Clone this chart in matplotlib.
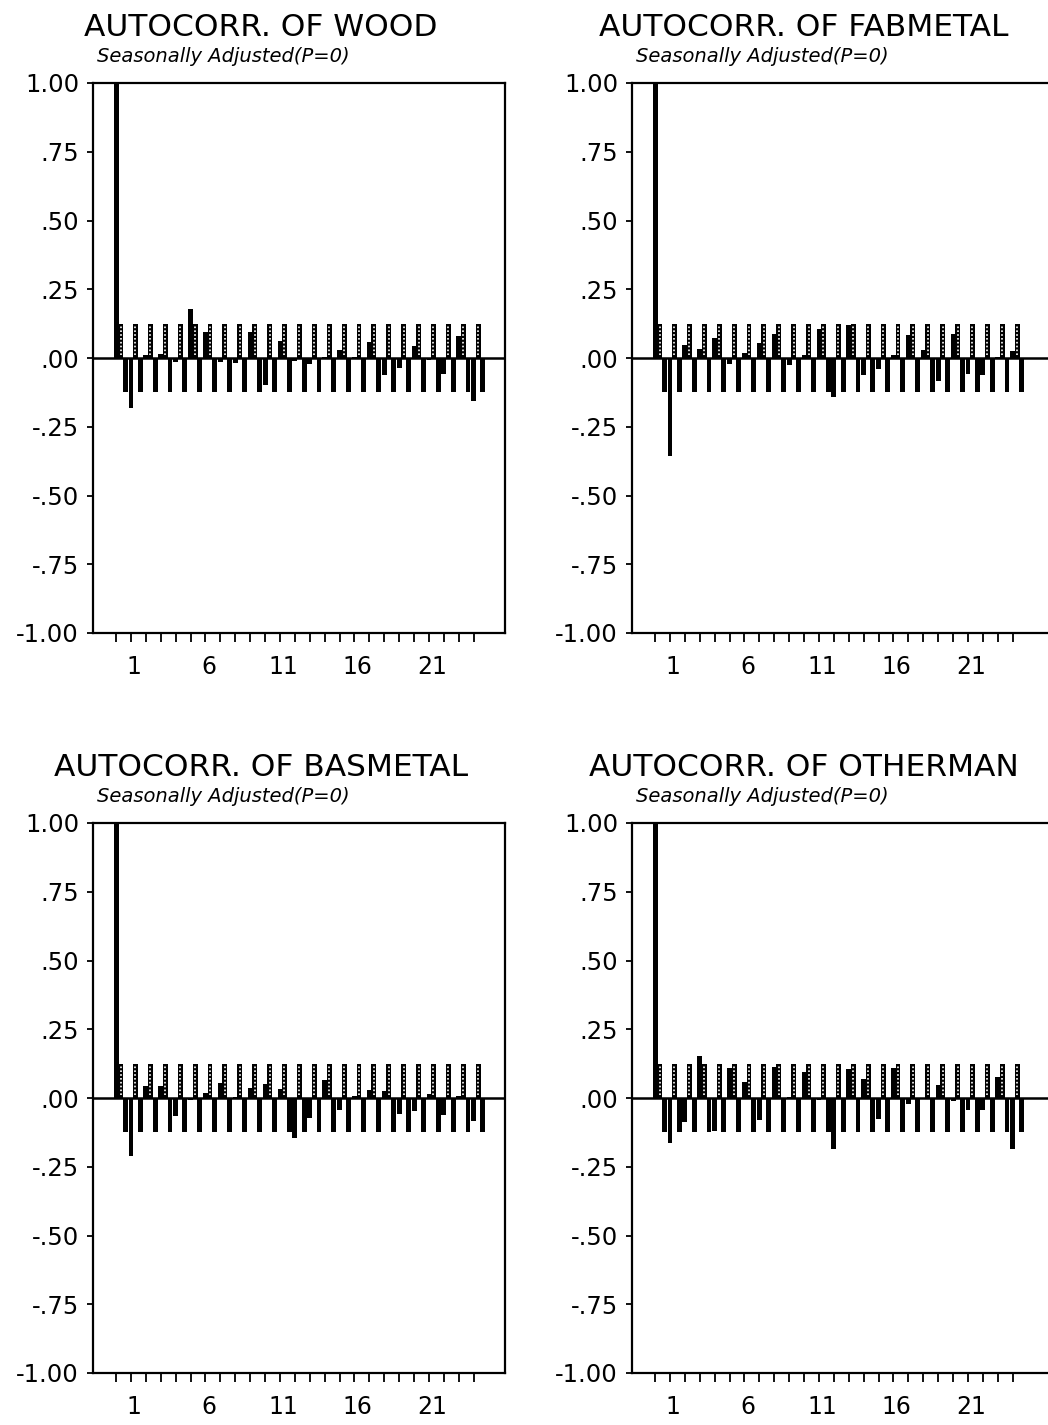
import numpy as np
import matplotlib.pyplot as plt

# lags 0..24, autocorrelations
lags = np.arange(25)

acf_wood = [1.00, -0.18, 0.012, 0.016, -0.016, 0.18, 0.094, -0.015, -0.018, 0.095,
            -0.097, 0.063, -0.012, -0.022, 0.003, 0.03, 0.005, 0.058, -0.06, -0.036,
            0.042, -0.006, -0.058, 0.079, -0.155]
acf_fabmetal = [1.00, -0.355, 0.046, 0.034, 0.073, -0.02, 0.018, 0.055, 0.089, -0.024,
                0.012, 0.104, -0.142, 0.119, -0.063, -0.041, 0.01, 0.083, 0.028, -0.085,
                0.089, -0.057, -0.061, 0.004, 0.024]
acf_basmetal = [1.00, -0.21, 0.045, 0.042, -0.064, -0.008, 0.018, 0.054, 0.002, 0.036,
                0.05, 0.032, -0.144, -0.072, 0.064, -0.042, 0.006, 0.028, 0.026, -0.057,
                -0.048, 0.014, -0.06, 0.008, -0.084]
acf_otherman = [1.00, -0.165, -0.088, 0.153, -0.12, 0.108, 0.06, -0.081, 0.114, 0.002,
                0.093, -0.008, -0.184, 0.105, 0.069, -0.076, 0.108, -0.02, 0.0, 0.048,
                -0.012, -0.042, -0.045, 0.078, -0.184]

# two standard error band
band_upper = 0.125
band_lower = -0.125

names = ['WOOD', 'FABMETAL', 'BASMETAL', 'OTHERMAN']
series = [acf_wood, acf_fabmetal, acf_basmetal, acf_otherman]
subtitle = 'Seasonally Adjusted(P=0)'

ytick_vals = [1.0, 0.75, 0.5, 0.25, 0.0, -0.25, -0.5, -0.75, -1.0]
ytick_labels = ['1.00', '.75', '.50', '.25', '.00', '-.25', '-.50', '-.75', '-1.00']
xlab_lags = [1, 6, 11, 16, 21]

W, H = 1048, 1425
fig = plt.figure(figsize=(W / 100, H / 100), dpi=100)

px_per_lag = 14.9
# left, top, bottom (pixels) and right edge of each panel
panels = [(93, 83, 633, 505), (632, 83, 633, 1052),
          (93, 823, 1373, 505), (632, 823, 1373, 1052)]
title_cx = [261, 804, 261, 804]

w = 0.33
for i, (name, acf) in enumerate(zip(names, series)):
    l, t, b, r = panels[i]
    ax = fig.add_axes([l / W, 1 - b / H, (r - l) / W, (b - t) / H])
    x0 = -1.55
    ax.set_xlim(x0, x0 + (r - l) / px_per_lag)
    ax.set_ylim(-1, 1)

    ax.bar(lags, acf, width=w, color='black', linewidth=0)
    ax.bar(lags + 0.3, np.full(len(lags), band_upper), width=w, color='black', linewidth=0)
    ax.vlines(lags + 0.3, 0.012, band_upper - 0.01, colors='white',
              linestyles=(0, (1, 1.3)), lw=1.2)
    ax.bar(lags + 0.62, np.full(len(lags), band_lower), width=w, color='black', linewidth=0)
    ax.axhline(0, color='black', lw=1.8)

    for s in ax.spines.values():
        s.set_linewidth(1.6)
    if r > W:
        ax.spines['right'].set_visible(False)

    ax.set_yticks(ytick_vals)
    ax.set_yticklabels(ytick_labels)
    ax.tick_params(axis='y', direction='out', length=4, width=1.3, pad=6, labelsize=17.5)

    ax.set_xticks(lags, minor=True)
    ax.set_xticks(np.array(xlab_lags) + 0.2)
    ax.set_xticklabels([str(v) for v in xlab_lags])
    ax.tick_params(axis='x', which='minor', direction='out', length=6.5, width=1.3)
    ax.tick_params(axis='x', which='major', length=0, pad=16, labelsize=17)

    fig.text(title_cx[i] / W, 1 - (t - 56) / H, 'AUTOCORR. OF ' + name,
             ha='center', va='center', fontsize=22.5)
    fig.text((l + 4) / W, 1 - (t - 21) / H, subtitle, ha='left', va='baseline',
             fontsize=14, style='italic')

plt.savefig('out.png', dpi=100)
